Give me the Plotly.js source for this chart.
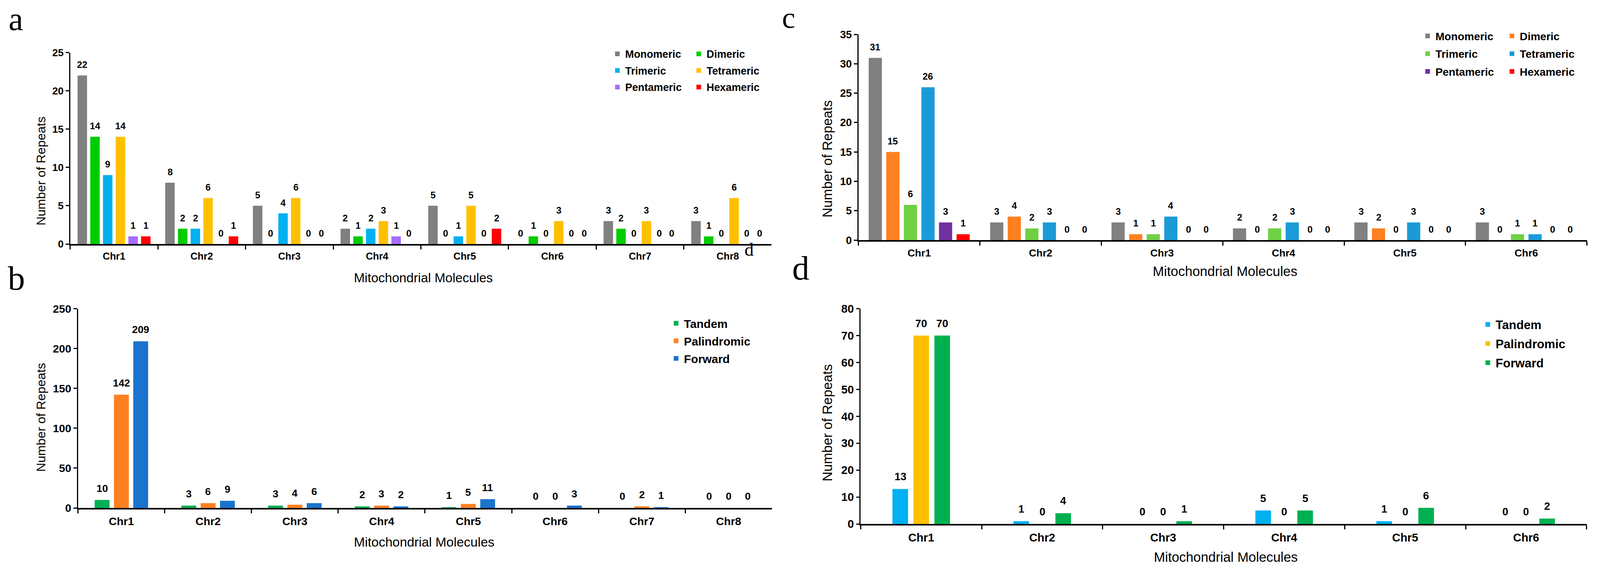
<!DOCTYPE html>
<html>
<head>
<meta charset="utf-8">
<script src="https://cdn.plot.ly/plotly-3.0.1.min.js"></script>
<style>html,body{margin:0;padding:0;background:#fff;overflow:hidden;}#chart{position:absolute;left:0;top:0;}</style>
</head>
<body>
<div id="chart"></div>
<script>
// ---------------- DATA ----------------
var catsA = ["Chr1","Chr2","Chr3","Chr4","Chr5","Chr6","Chr7","Chr8"];
var catsC = ["Chr1","Chr2","Chr3","Chr4","Chr5","Chr6"];

var seriesNamesSSR = ["Monomeric","Dimeric","Trimeric","Tetrameric","Pentameric","Hexameric"];
var a_Monomeric  = [22, 8, 5, 2, 5, 0, 3, 3];
var a_Dimeric    = [14, 2, 0, 1, 0, 1, 2, 1];
var a_Trimeric   = [ 9, 2, 4, 2, 1, 0, 0, 0];
var a_Tetrameric = [14, 6, 6, 3, 5, 3, 3, 6];
var a_Pentameric = [ 1, 0, 0, 1, 0, 0, 0, 0];
var a_Hexameric  = [ 1, 1, 0, 0, 2, 0, 0, 0];

var seriesNamesRep = ["Tandem","Palindromic","Forward"];
var b_Tandem      = [ 10, 3, 3, 2, 1, 0, 0, 0];
var b_Palindromic = [142, 6, 4, 3, 5, 0, 2, 0];
var b_Forward     = [209, 9, 6, 2,11, 3, 1, 0];

var c_Monomeric  = [31, 3, 3, 2, 3, 3];
var c_Dimeric    = [15, 4, 1, 0, 2, 0];
var c_Trimeric   = [ 6, 2, 1, 2, 0, 1];
var c_Tetrameric = [26, 3, 4, 3, 3, 1];
var c_Pentameric = [ 3, 0, 0, 0, 0, 0];
var c_Hexameric  = [ 1, 0, 0, 0, 0, 0];

var d_Tandem      = [13, 1, 0, 5, 1, 0];
var d_Palindromic = [70, 0, 0, 0, 0, 0];
var d_Forward     = [70, 4, 1, 5, 6, 2];

var yTicksA = [0,5,10,15,20,25];
var yTicksB = [0,50,100,150,200,250];
var yTicksC = [0,5,10,15,20,25,30,35];
var yTicksD = [0,10,20,30,40,50,60,70,80];

var axisTitleX = "Mitochondrial Molecules";
var axisTitleY = "Number of Repeats";

// ---------------- STYLE ----------------
var RW = 4307, RH = 1460;                       // reference frame
var VW = window.innerWidth || document.documentElement.clientWidth || RW;
var VH = window.innerHeight || document.documentElement.clientHeight || RH;
var SX = VW / RW, SY = VH / RH, S = (SX + SY) / 2;

var FONT = "Liberation Sans, Arial, Helvetica, sans-serif";
var SERIF = "Liberation Serif, Times New Roman, serif";

var colorsA = ["#808080","#00cc00","#00b0f0","#ffc000","#a66cff","#ff0000"];
var colorsB = ["#00b050","#ff8021","#1a73cc"];
var colorsC = ["#808080","#ff8021","#70d044","#1a9bd7","#7030a0","#ff0000"];
var colorsD = ["#00b0f0","#ffc000","#00b050"];

// panel geometry in reference pixels
var panels = {
  a: {x0:189,  x1:2077, yb:625,  yt:134.5, max:25,  ticks:yTicksA, cats:catsA, slot:0.1449, bw:0.108,
      xf:26, yf:27, vf:24.5, gap:12, xs:"x",  ys:"y"},
  b: {x0:210,  x1:2078, yb:1301, yt:790.6, max:250, ticks:yTicksB, cats:catsA, slot:0.2227, bw:0.1713,
      xf:29, yf:29, vf:27, gap:13, xs:"x2", ys:"y2"},
  c: {x0:2311, x1:4272, yb:615,  yt:88,    max:35,  ticks:yTicksC, cats:catsC, slot:0.1447, bw:0.1086,
      xf:27, yf:28, vf:24.5, gap:12.5, xs:"x3", ys:"y3"},
  d: {x0:2317, x1:4271, yb:1342, yt:790.6, max:80,  ticks:yTicksD, cats:catsC, slot:0.1735, bw:0.129,
      xf:30, yf:30, vf:28, gap:14, xs:"x4", ys:"y4"}
};

var panelSeries = {
  a: {names: seriesNamesSSR, vals:[a_Monomeric,a_Dimeric,a_Trimeric,a_Tetrameric,a_Pentameric,a_Hexameric], colors:colorsA,
      legends:["legend","legend2","legend","legend2","legend","legend2"]},
  b: {names: seriesNamesRep, vals:[b_Tandem,b_Palindromic,b_Forward], colors:colorsB,
      legends:["legend3","legend3","legend3"]},
  c: {names: seriesNamesSSR, vals:[c_Monomeric,c_Dimeric,c_Trimeric,c_Tetrameric,c_Pentameric,c_Hexameric], colors:colorsC,
      legends:["legend4","legend5","legend4","legend5","legend4","legend5"]},
  d: {names: seriesNamesRep, vals:[d_Tandem,d_Palindromic,d_Forward], colors:colorsD,
      legends:["legend6","legend6","legend6"]}
};

var traces = [];
var annotations = [];

Object.keys(panels).forEach(function(k){
  var p = panels[k], s = panelSeries[k];
  var n = s.names.length;
  var catPx = (p.x1 - p.x0) / p.cats.length;
  for (var i = 0; i < n; i++) {
    var off = -n * p.slot / 2 + i * p.slot + (p.slot - p.bw) / 2;
    traces.push({
      type: "bar", name: s.names[i], x: p.cats, y: s.vals[i],
      xaxis: p.xs, yaxis: p.ys, legend: s.legends[i], legendgroup: k + s.names[i],
      offset: off, width: p.bw,
      marker: {color: s.colors[i], line: {width: 0}},
      hoverinfo: "skip"
    });
    var centerPx = (off + p.bw / 2) * catPx;
    for (var j = 0; j < p.cats.length; j++) {
      annotations.push({
        xref: p.xs, yref: p.ys, x: p.cats[j], y: s.vals[i][j],
        text: String(s.vals[i][j]), showarrow: false,
        xshift: centerPx * SX, yshift: p.gap * SY, yanchor: "bottom", xanchor: "center",
        font: {family: FONT, size: p.vf * S, color: "#000", weight: "bold"}
      });
    }
  }
});

function px2x(v){ return v / RW; }
function py2y(v){ return 1 - v / RH; }

// axis titles
var xTitles = [
  {x:1140, y:711,  size:34},
  {x:1142, y:1388, size:34.4},
  {x:3298, y:695,  size:35.4},
  {x:3300, y:1427, size:35.2}
];
xTitles.forEach(function(t){
  annotations.push({xref:"paper", yref:"paper", x:px2x(t.x), y:py2y(t.y), text:axisTitleX,
    showarrow:false, xanchor:"center", yanchor:"middle",
    font:{family:FONT, size:t.size * S, color:"#000"}});
});
var yTitles = [
  {x:110,  y:438,  size:33},
  {x:110,  y:1069, size:33},
  {x:2227, y:407,  size:35.5},
  {x:2227, y:1083, size:35.5}
];
yTitles.forEach(function(t){
  annotations.push({xref:"paper", yref:"paper", x:px2x(t.x), y:py2y(t.y), text:axisTitleY,
    showarrow:false, xanchor:"center", yanchor:"middle", textangle:-90,
    font:{family:FONT, size:t.size * S, color:"#000"}});
});

// panel letters: left edge, baseline (ref px), font size
var letters = [
  {t:"a", x:21,   base:78,  size:86},
  {t:"b", x:19,   base:743, size:90},
  {t:"c", x:2103, base:71,  size:78},
  {t:"d", x:2130, base:717, size:90},
  {t:"d", x:2002, base:655, size:48}
];
letters.forEach(function(l){
  annotations.push({xref:"paper", yref:"paper", x:px2x(l.x), y:py2y(l.base - 0.3375 * l.size), text:l.t,
    showarrow:false, xanchor:"left", yanchor:"middle",
    font:{family:SERIF, size:l.size * S, color:"#000"}});
});

var layout = {
  width: VW, height: VH,
  margin: {l:0, r:0, t:0, b:0, pad:0},
  paper_bgcolor: "#fff", plot_bgcolor: "#fff",
  font: {family: FONT, color: "#000"},
  barmode: "overlay",
  hovermode: false,
  annotations: annotations
};

var axKeys = {a:["xaxis","yaxis"], b:["xaxis2","yaxis2"], c:["xaxis3","yaxis3"], d:["xaxis4","yaxis4"]};
Object.keys(panels).forEach(function(k){
  var p = panels[k];
  layout[axKeys[k][0]] = {
    type: "category", domain: [px2x(p.x0), px2x(p.x1)], anchor: p.ys,
    categoryorder: "array", categoryarray: p.cats,
    range: [-0.5, p.cats.length - 0.5],
    showline: true, linecolor: "#000", linewidth: 4 * S,
    ticks: "outside", tickson: "boundaries", ticklen: 10 * SY, tickwidth: 3 * S, tickcolor: "#000",
    ticklabelstandoff: 6 * SY,
    showgrid: false, zeroline: false, fixedrange: true,
    tickfont: {family: FONT, size: p.xf * S, color: "#000", weight: "bold"}
  };
  layout[axKeys[k][1]] = {
    domain: [py2y(p.yb), py2y(p.yt)], anchor: p.xs,
    range: [0, p.max], tickmode: "array", tickvals: p.ticks,
    showline: true, linecolor: "#000", linewidth: 3 * S,
    ticks: "outside", ticklen: 9 * SX, tickwidth: 3 * S, tickcolor: "#000",
    ticklabelstandoff: 10 * SX,
    showgrid: false, zeroline: false, fixedrange: true,
    tickfont: {family: FONT, size: p.yf * S, color: "#000", weight: "bold"}
  };
});

// legends: textStart & first-row centre in reference px, font size, row pitch (ref px)
function legendDef(textStartPx, firstRowPx, fsize, pitch){
  var f = fsize * S;
  var h = 1.3 * f + 3;                       // plotly legend item height (screen px)
  var gap = Math.max(0, pitch * SY - h);
  var topPx = firstRowPx - (5 + h / 2) / SY;
  return {x: px2x(textStartPx - 40 / SX), y: py2y(topPx), xanchor: "left", yanchor: "top",
    orientation: "v", traceorder: "grouped", tracegroupgap: gap,
    bgcolor: "rgba(255,255,255,0)", borderwidth: 0,
    font: {family: FONT, size: f, color: "#000", weight: "bold"}};
}
layout.legend  = legendDef(1683, 138, 27.5, 42.5);
layout.legend2 = legendDef(1902, 138, 27.5, 42.5);
layout.legend3 = legendDef(1841, 828, 30.5, 45);
layout.legend4 = legendDef(3864, 92,  28.5, 45.5);
layout.legend5 = legendDef(4091, 92,  28.5, 45.5);
layout.legend6 = legendDef(4026, 831, 32,   49);

Plotly.newPlot("chart", traces, layout, {displayModeBar: false, responsive: false});
</script>
</body>
</html>
